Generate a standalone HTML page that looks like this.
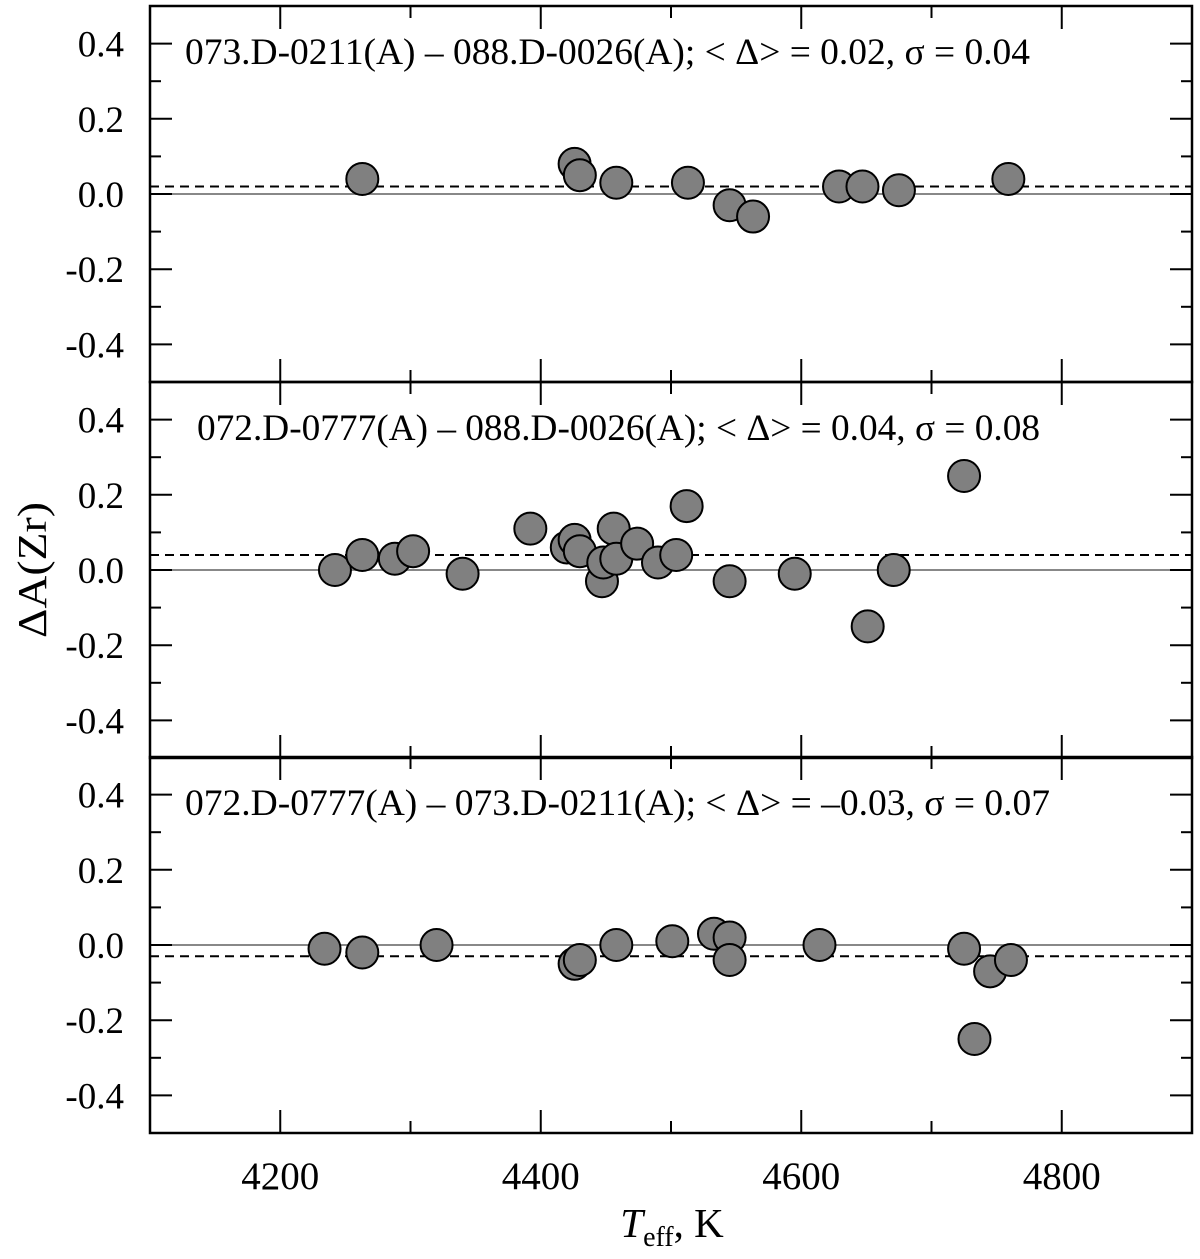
<!DOCTYPE html>
<html><head><meta charset="utf-8"><style>
html,body{margin:0;padding:0;background:#fff}
svg{display:block}
text{font-family:"Liberation Serif",serif;fill:#000}
</style></head><body>
<svg id="chart" width="1200" height="1259" viewBox="0 0 1200 1259" xmlns="http://www.w3.org/2000/svg"></svg>
<script>
const xTicks=[4200,4400,4600,4800];
const xMinor=[4100,4300,4500,4700,4900];
const yTicks=[0.4,0.2,0.0,-0.2,-0.4];
const yTickLabels=["0.4","0.2","0.0","-0.2","-0.4"];
const panelTitles=["073.D-0211(A)  \u2013 088.D-0026(A); < \u0394> = 0.02,  \u03c3 = 0.04","072.D-0777(A)  \u2013 088.D-0026(A); < \u0394> = 0.04,  \u03c3 = 0.08","072.D-0777(A)  \u2013 073.D-0211(A); < \u0394> = \u20130.03,  \u03c3 = 0.07"];
const panelMeans=[0.02,0.04,-0.03];
const p1T=[4263,4426,4430,4458,4513,4545,4563,4629,4647,4675,4759];
const p1D=[0.04,0.08,0.05,0.03,0.03,-0.03,-0.06,0.02,0.02,0.01,0.04];
const p2T=[4242,4263,4288,4302,4340,4392,4420,4426,4430,4447,4456,4448,4458,4474,4490,4504,4512,4545,4595,4651,4671,4725];
const p2D=[0.0,0.04,0.03,0.05,-0.01,0.11,0.06,0.08,0.05,-0.03,0.11,0.02,0.03,0.07,0.02,0.04,0.17,-0.03,-0.01,-0.15,0.0,0.25];
const p3T=[4234,4263,4320,4426,4430,4458,4501,4533,4545,4545,4614,4725,4745,4761,4733];
const p3D=[-0.01,-0.02,0.0,-0.05,-0.04,0.0,0.01,0.03,0.02,-0.04,0.0,-0.01,-0.07,-0.04,-0.25];
const panelsT=[p1T,p2T,p3T];
const panelsD=[p1D,p2D,p3D];

const svg=document.getElementById('chart');
const NS='http://www.w3.org/2000/svg';
const L=150,R=1192,X0=4100,X1=4900;
const tops=[6,382,757];const PH=376;
const titleX=[185,197,185];
const titleW=[845,843,865];
const x=t=>L+(t-X0)/(X1-X0)*(R-L);
const yf=(p)=>v=>tops[p]+PH/2-v*PH;
function mk(tag,attrs,parent){const e=document.createElementNS(NS,tag);for(const k in attrs)e.setAttribute(k,attrs[k]);(parent||svg).appendChild(e);return e;}

for(let p=0;p<3;p++){
  const g=mk('g',{});
  
  
  const y=yf(p),top=tops[p],bot=top+PH;
  const z=mk('line',{x1:L,x2:R,y1:y(0),y2:y(0),stroke:'#888','stroke-width':2},g);
  
  
  const m=mk('line',{x1:L,x2:R,y1:y(panelMeans[p]),y2:y(panelMeans[p]),stroke:'#000','stroke-width':2,'stroke-dasharray':'9,6'},g);
  
  
  for(let v=-0.4;v<=0.41;v+=0.1){
    const vv=Math.round(v*10)/10;
    const major=Math.abs(Math.round(vv*10))%2===0;
    const len=major?22:11;
    mk('line',{x1:L,x2:L+len,y1:y(vv),y2:y(vv),stroke:'#000','stroke-width':2},g);
    mk('line',{x1:R-len,x2:R,y1:y(vv),y2:y(vv),stroke:'#000','stroke-width':2},g);
  }
  yTicks.forEach((v,i)=>{
    const t=mk('text',{x:124,y:y(v)+13,'text-anchor':'end','font-size':37},g);
    t.textContent=yTickLabels[i];
    
    
  });
  xTicks.forEach(t=>{
    mk('line',{x1:x(t),x2:x(t),y1:top,y2:top+23,stroke:'#000','stroke-width':2},g);
    mk('line',{x1:x(t),x2:x(t),y1:bot,y2:bot-23,stroke:'#000','stroke-width':2},g);
  });
  xMinor.forEach(t=>{
    mk('line',{x1:x(t),x2:x(t),y1:top,y2:top+12,stroke:'#000','stroke-width':2},g);
    mk('line',{x1:x(t),x2:x(t),y1:bot,y2:bot-12,stroke:'#000','stroke-width':2},g);
  });
  const tt=mk('text',{x:titleX[p],y:top+58,'font-size':37,textLength:titleW[p],lengthAdjust:'spacingAndGlyphs'},g);
  tt.textContent=panelTitles[p];
  
  
  panelsT[p].forEach((T,i)=>{
    const c=mk('circle',{cx:x(T),cy:y(panelsD[p][i]),r:16,fill:'#808080',stroke:'#000','stroke-width':2},g);
    
    
  });
  const fr=mk('rect',{x:L,y:top,width:R-L,height:PH,fill:'none',stroke:'#000','stroke-width':2.5},g);
  
  
}
xTicks.forEach(t=>{
  const e=mk('text',{x:x(t),y:1189,'text-anchor':'middle','font-size':39});
  e.textContent=t;
  
  
});
const xl=mk('text',{x:672,y:1237,'text-anchor':'middle','font-size':41});


xl.innerHTML='<tspan font-style="italic">T</tspan><tspan font-size="28" dy="9">eff</tspan><tspan dy="-9">, K</tspan>';
const yl=mk('text',{x:0,y:0,'text-anchor':'middle','font-size':41,textLength:136,lengthAdjust:'spacingAndGlyphs',transform:'translate(46,570) rotate(-90)'});
yl.textContent='\u0394A(Zr)';


</script>
</body></html>
